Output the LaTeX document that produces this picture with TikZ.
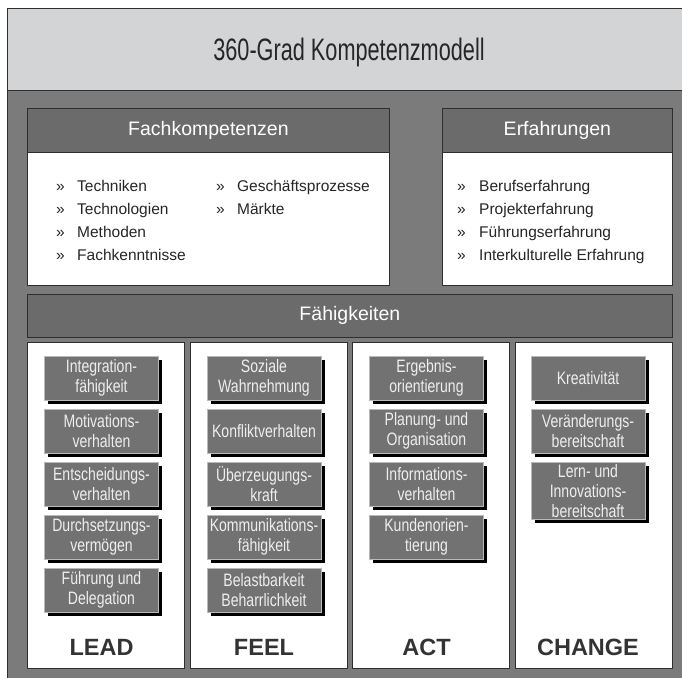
\documentclass[tikz,border=0pt]{standalone}
\usepackage{fontspec}
\setmainfont{Liberation Sans}
\newfontfamily\titlefont[FakeStretch=0.7]{Liberation Sans}
\newfontfamily\narrowfont[FakeStretch=0.78]{Liberation Sans}
\usetikzlibrary{positioning,shadows}

\definecolor{titlegrey}{HTML}{D3D4D6}
\definecolor{backgrey}{HTML}{7B7B7B}
\definecolor{headgrey}{HTML}{6B6B6B}
\definecolor{skillgrey}{HTML}{727272}
\definecolor{skilltext}{HTML}{EEEEEE}
\definecolor{framegrey}{HTML}{2E2E2E}

\tikzset{
  head/.style={draw=framegrey, line width=0.8pt, fill=headgrey, text=white,
    font=\fontsize{19.5}{22}\selectfont, minimum height=44pt, inner sep=0pt,
    anchor=north west},
  panel/.style={draw=framegrey, line width=1pt, fill=white, inner sep=0pt,
    anchor=north west},
  skill/.style={fill=skillgrey, draw=gray!55, line width=0.6pt, text=skilltext,
    minimum width=114pt, minimum height=44pt, inner sep=2pt, align=center,
    anchor=north, font=\narrowfont\fontsize{18}{20}\selectfont,
    drop shadow={shadow xshift=3.5pt, shadow yshift=-3.5pt, fill=black, opacity=1}},
  item/.style={anchor=west, inner sep=0pt, text=black!85, text height=11pt,
    text depth=3pt, font=\fontsize{15.5}{18}\selectfont},
  colname/.style={font=\bfseries\fontsize{23.5}{26}\selectfont, text=black!80},
}

\begin{document}
\begin{tikzpicture}[x=1pt, y=-1pt]
\useasboundingbox (0,0) rectangle (682,678);

% frame and title
\fill[backgrey] (7,90) rectangle (682,678);
\draw[framegrey, line width=1pt] (7,678) -- (7,90);
\node [draw=framegrey, line width=1pt, fill=titlegrey, anchor=north west,
  minimum width=677pt, minimum height=82pt, inner sep=0pt] (titlebar) at (7,8) {};
\node [font=\titlefont\fontsize{31}{36}\selectfont, text=black!85] (title)
  at (349,52) {360-Grad Kompetenzmodell};

% Fachkompetenzen
\node [panel, minimum width=362pt, minimum height=177pt] (fach) at (27,108) {};
\node [head, minimum width=362pt] (fach-head) at (27,108) {Fachkompetenzen};
\foreach \t [count=\r] in {Techniken,Technologien,Methoden,Fachkenntnisse}
  \node [item] (fach-\r) at (56,187+23*\r-23) {\makebox[21pt][l]{»}\t};
\foreach \t [count=\r] in {Geschäftsprozesse,Märkte}
  \node [item] (fach-b\r) at (216,187+23*\r-23) {\makebox[21pt][l]{»}\t};

% Erfahrungen
\node [panel, minimum width=230pt, minimum height=177pt] (erf) at (442,108) {};
\node [head, minimum width=230pt] (erf-head) at (442,108) {Erfahrungen};
\foreach \t [count=\r] in {Berufserfahrung,Projekterfahrung,Führungserfahrung,Interkulturelle Erfahrung}
  \node [item] (erf-\r) at (457,187+23*\r-23) {\makebox[22pt][l]{»}\t};

% Faehigkeiten
\node [head, minimum width=645pt, minimum height=43pt] (faeh) at (27,294) {Fähigkeiten};

\foreach \c/\l [count=\i] in {lead/LEAD,feel/FEEL,act/ACT,change/CHANGE}
  \node [panel, minimum width=157pt, minimum height=326pt] (col-\c)
    at (27+162.7*\i-162.7,342) {};

\foreach \t [count=\r] in {{Integration-\\fähigkeit},{Motivations-\\verhalten},
    {Entscheidungs-\\verhalten},{Durchsetzungs-\\vermögen},{Führung und\\Delegation}}
  \node [skill] (lead-\r) at (101.5,356+53*\r-53) {\t};
\foreach \t [count=\r] in {{Soziale\\Wahrnehmung},{Konfliktverhalten},
    {Überzeugungs-\\kraft},{Kommunikations-\\fähigkeit},{Belastbarkeit\\Beharrlichkeit}}
  \node [skill] (feel-\r) at (264,356+53*\r-53) {\t};
\foreach \t [count=\r] in {{Ergebnis-\\orientierung},{Planung- und\\Organisation},
    {Informations-\\verhalten},{Kundenorien-\\tierung}}
  \node [skill] (act-\r) at (426.5,356+53*\r-53) {\t};
\foreach \t [count=\r] in {{Kreativität},{Veränderungs-\\bereitschaft},
    {Lern- und\\Innovations-\\bereitschaft}}
  \node [skill] (change-\r) at (588,356+53*\r-53) {\t};

\node [colname] (lead-name) at (lead-1.center |- 0,647) {LEAD};
\node [colname] (feel-name) at (feel-1.center |- 0,647) {FEEL};
\node [colname] (act-name) at (act-1.center |- 0,647) {ACT};
\node [colname] (change-name) at (change-1.center |- 0,647) {CHANGE};
\end{tikzpicture}
\end{document}
